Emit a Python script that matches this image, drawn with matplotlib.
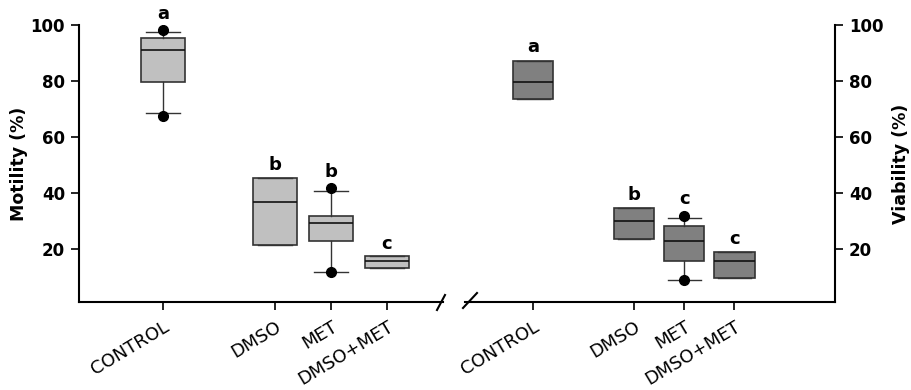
import matplotlib
matplotlib.use("Agg")
import matplotlib.pyplot as plt
from matplotlib.lines import Line2D

plt.rcParams['font.family'] = ['DejaVu Sans']

# -----------------------------
# Data
# -----------------------------
groups = ["CONTROL", "DMSO", "MET", "DMSO+MET"]
positions = [0, 2, 3, 4]

mot_q1 = [79.5, 21.4, 22.7, 13.1]
mot_med = [91.0, 36.8, 29.3, 15.8]
mot_q3 = [95.2, 45.4, 31.9, 17.4]
mot_lo = [68.6, 21.4, 11.6, 13.1]
mot_hi = [97.6, 45.4, 40.5, 17.4]
mot_fliers = [[67.4, 98.2], [], [11.6, 41.9], []]
mot_letters = ["a", "b", "b", "c"]
mot_letter_y = [103.9, 49.8, 47.4, 21.8]

via_q1 = [73.6, 23.4, 15.7, 9.5]
via_med = [79.5, 29.9, 22.7, 15.5]
via_q3 = [87.2, 34.5, 28.0, 19.0]
via_lo = [73.6, 23.4, 9.0, 9.5]
via_hi = [87.2, 34.5, 31.1, 19.0]
via_fliers = [[], [], [8.9, 31.7], []]
via_letters = ["a", "b", "c", "c"]
via_letter_y = [92.0, 39.3, 37.9, 23.6]

yticks = [20, 40, 60, 80, 100]


def make_stats(q1, med, q3, lo, hi, fl):
    return [dict(q1=a, med=b, q3=c, whislo=d, whishi=e, fliers=f)
            for a, b, c, d, e, f in zip(q1, med, q3, lo, hi, fl)]


def draw_panel(ax, stats, fill, capw, letters, letter_y):
    ax.bxp(stats, positions=positions, widths=0.8, capwidths=capw,
           patch_artist=True, showfliers=True,
           boxprops=dict(facecolor=fill, edgecolor="#333333", linewidth=1.2),
           medianprops=dict(color="#111111", linewidth=1.2),
           whiskerprops=dict(color="#333333", linewidth=1.0),
           capprops=dict(color="#333333", linewidth=1.0),
           flierprops=dict(marker="o", markerfacecolor="black",
                           markeredgecolor="black", markersize=7))
    for x, t, y in zip(positions, letters, letter_y):
        ax.text(x, y, t, ha="center", va="center", fontsize=13,
                fontweight="bold")
    ax.set_ylim(1, 100)
    ax.set_yticks(yticks, labels=[str(v) for v in yticks],
                  fontsize=12, fontweight="bold")
    ax.set_xticks(positions)
    ax.set_xticklabels(groups, rotation=31, ha="right",
                       rotation_mode="anchor", fontsize=13)
    ax.tick_params(axis="y", length=6, width=1.2, pad=4)
    ax.tick_params(axis="x", length=6, width=1.2, pad=5)
    ax.spines["top"].set_visible(False)
    for s in ax.spines.values():
        s.set_linewidth(1.5)


fig = plt.figure(figsize=(9.11, 3.9), dpi=100)

# Motility panel
ax1 = fig.add_axes([0.0867, 0.2256, 0.3996, 0.7103])
draw_panel(ax1, make_stats(mot_q1, mot_med, mot_q3, mot_lo, mot_hi, mot_fliers),
           "#c0c0c0", 0.6, mot_letters, mot_letter_y)
ax1.set_xlim(-1.5, 5.0)
ax1.spines["right"].set_visible(False)
ax1.set_ylabel("Motility (%)", fontsize=12.5, fontweight="bold", labelpad=2)

# Viability panel
ax2 = fig.add_axes([0.5104, 0.2256, 0.4062, 0.7103])
draw_panel(ax2, make_stats(via_q1, via_med, via_q3, via_lo, via_hi, via_fliers),
           "#808080", 0.65, via_letters, via_letter_y)
ax2.set_xlim(-1.36, 6.0)
ax2.spines["left"].set_visible(False)
ax2.yaxis.tick_right()
ax2.yaxis.set_label_position("right")
ax2.set_ylabel("Viability (%)", fontsize=12.5, fontweight="bold", labelpad=6)

# Axis break marks
fig.add_artist(Line2D([437 / 911, 445 / 911], [1 - 310 / 390, 1 - 295 / 390],
                      color="black", linewidth=1.5))
fig.add_artist(Line2D([463 / 911, 477 / 911], [1 - 308 / 390, 1 - 293 / 390],
                      color="black", linewidth=1.5))

plt.savefig("out.png", dpi=100)
